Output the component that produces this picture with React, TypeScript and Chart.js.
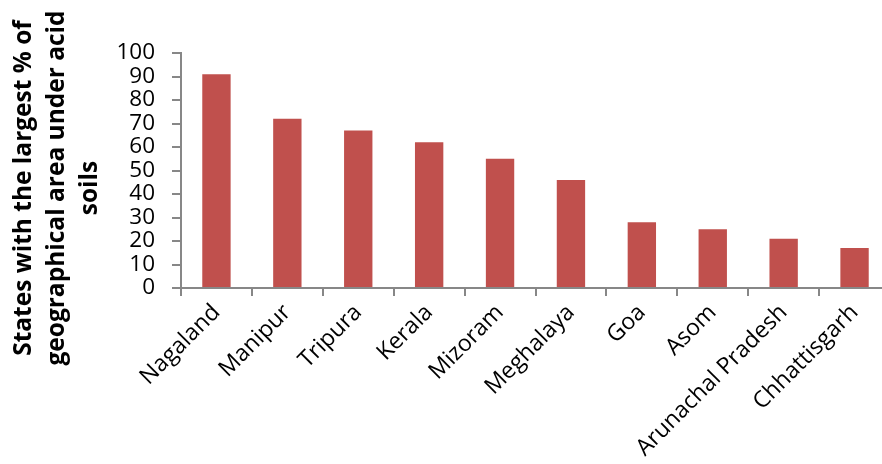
import React, { useEffect, useRef } from "react";
import { Chart, registerables } from "chart.js";

Chart.register(...registerables);

const states: string[] = [
  "Nagaland",
  "Manipur",
  "Tripura",
  "Kerala",
  "Mizoram",
  "Meghalaya",
  "Goa",
  "Asom",
  "Arunachal Pradesh",
  "Chhattisgarh",
];
const acidSoilPercent: number[] = [91, 72, 67, 62, 55, 46, 28, 25, 21, 17];
const yTitleLines: string[] = [
  "States with the largest % of",
  "geographical area under acid",
  "soils",
];

const FONT = "'Open Sans', 'Noto Sans', sans-serif";
const AXIS_GRAY = "#878787";

const titlePlugin = {
  id: "yTitleLines",
  afterDraw(chart: any) {
    const ctx = chart.ctx as CanvasRenderingContext2D;
    const baselines = [30.7, 63.5, 96.5];
    ctx.save();
    ctx.translate(0, 188);
    ctx.rotate(-Math.PI / 2);
    ctx.fillStyle = "#000";
    ctx.font = `bold 24.5px ${FONT}`;
    ctx.textAlign = "center";
    ctx.textBaseline = "alphabetic";
    yTitleLines.forEach((line, i) => {
      ctx.fillText(line, 0, baselines[i]);
    });
    ctx.restore();
  },
};

export default function App() {
  const canvasRef = useRef<HTMLCanvasElement | null>(null);

  useEffect(() => {
    document.body.style.margin = "0";
    document.body.style.overflow = "hidden";
    const canvas = canvasRef.current;
    if (!canvas) return;
    const chart = new Chart(canvas, {
      type: "bar",
      data: {
        labels: states,
        datasets: [
          {
            data: acidSoilPercent,
            backgroundColor: "#C0504D",
            borderWidth: 0,
            barPercentage: 0.4,
            categoryPercentage: 1,
          },
        ],
      },
      options: {
        animation: false,
        responsive: false,
        devicePixelRatio: 1,
        layout: { padding: { left: 0, top: 53, right: 10, bottom: 0 } },
        plugins: {
          legend: { display: false },
          tooltip: { enabled: false },
          title: { display: false },
        },
        scales: {
          x: {
            offset: true,
            afterFit: (scale: any) => {
              scale.height = 176;
            },
            grid: {
              display: true,
              offset: true,
              drawOnChartArea: false,
              drawTicks: true,
              tickLength: 8,
              color: AXIS_GRAY,
              lineWidth: 2,
            },
            border: { display: true, color: AXIS_GRAY, width: 2 },
            ticks: {
              autoSkip: false,
              minRotation: 45,
              maxRotation: 45,
              padding: 3,
              color: "#000",
              font: { family: FONT, size: 23 },
            },
          },
          y: {
            min: 0,
            max: 100,
            afterFit: (scale: any) => {
              scale.width = 181;
            },
            grid: {
              display: true,
              drawOnChartArea: false,
              drawTicks: true,
              tickLength: 9,
              color: AXIS_GRAY,
              lineWidth: 2,
            },
            border: { display: true, color: AXIS_GRAY, width: 2 },
            ticks: {
              autoSkip: false,
              stepSize: 10,
              padding: 17,
              color: "#000",
              font: { family: FONT, size: 22.5 },
            },
          },
        },
      },
      plugins: [titlePlugin],
    });
    return () => chart.destroy();
  }, []);

  return (
    <div style={{ width: 900, height: 464, overflow: "hidden" }}>
      <canvas ref={canvasRef} width={900} height={464} />
    </div>
  );
}
